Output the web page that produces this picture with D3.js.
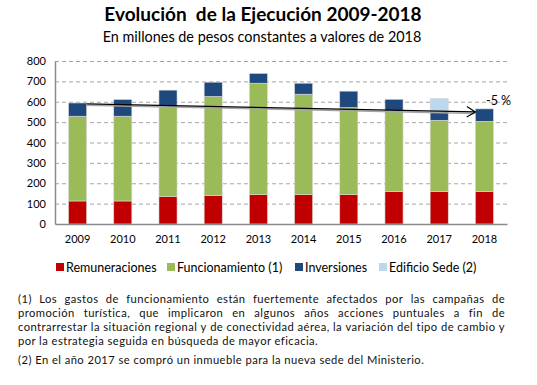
<!DOCTYPE html>
<html><head><meta charset="utf-8">
<script src="https://cdn.jsdelivr.net/npm/d3@7"></script>
<style>body{margin:0;background:#fff}svg{display:block}</style>
</head><body><svg id="c" width="537" height="385"></svg>
<script>
const years = ["2009","2010","2011","2012","2013","2014","2015","2016","2017","2018"];
const remuneraciones = [113,113,135,140,144,144,144,159,159,159];
const funcionamiento = [416,416,440,486,547,493,427,398,350,345];
const inversiones = [65,82,82,70,48,54,81,55,44,61];
const edificioSede = [0,0,0,0,0,0,0,0,63,0];
const seriesNames = ["Remuneraciones","Funcionamiento (1)","Inversiones","Edificio Sede (2)"];
const colors = ["#C00000","#9BBB59","#1F497D","#BDD7EE"];
const yTicks = [0,100,200,300,400,500,600,700,800];
const trend = [590, 550];
const trendLabel = "-5 %";
const title = "Evolución  de la Ejecución 2009-2018";
const subtitle = "En millones de pesos constantes a valores de 2018";
const notes = [
 {t:"(1) Los gastos de funcionamiento están fuertemente afectados por las campañas de", j:true},
 {t:"promoción turística, que implicaron en algunos años acciones puntuales a fin de", j:true},
 {t:"contrarrestar la situación regional y de conectividad aérea, la variación del tipo de cambio y", j:true},
 {t:"por la estrategia seguida en búsqueda de mayor eficacia.", j:false},
 {t:"(2) En el año 2017 se compró un inmueble para la nueva sede del Ministerio.", j:false, gap:true}
];

const font = "Lato, 'Open Sans', sans-serif";
const svg = d3.select("#c").style("font-family", font);
const L=55, R=507, T=61, B=224;
const x = d3.scaleBand().domain(years).range([L,R]).paddingInner(0.6).paddingOuter(0.3);
const y = d3.scaleLinear().domain([0,800]).range([B,T]);

svg.append("text").attr("x",263).attr("y",21).attr("text-anchor","middle").style("white-space","pre")
  .attr("font-size",19).attr("font-weight","bold").text(title);
svg.append("text").attr("x",262).attr("y",42).attr("text-anchor","middle")
  .attr("font-size",14.4).text(subtitle);

// grid
svg.append("g").selectAll("line").data(yTicks.filter(d=>d>0)).join("line")
  .attr("x1",L).attr("x2",R).attr("y1",d=>y(d)+0.5).attr("y2",d=>y(d)+0.5)
  .attr("stroke","#a6a6a6").attr("stroke-dasharray","4,3");

// stacked bars
const rows = years.map((yr,i)=>({year:yr, s0:remuneraciones[i], s1:funcionamiento[i], s2:inversiones[i], s3:edificioSede[i]}));
const stack = d3.stack().keys(["s0","s1","s2","s3"])(rows);
svg.append("g").selectAll("g").data(stack).join("g").attr("fill",(d,i)=>colors[i])
  .selectAll("rect").data(d=>d.filter(p=>p[1]>p[0])).join("rect")
  .attr("x",d=>x(d.data.year)).attr("width",x.bandwidth())
  .attr("y",d=>y(d[1])).attr("height",d=>y(d[0])-y(d[1]))
  .attr("stroke","#d9d9d9").attr("stroke-width",0.6);

// axes
const yAxis = svg.append("g").attr("transform",`translate(${L},0)`)
  .call(d3.axisLeft(y).tickValues(yTicks).tickSize(0).tickPadding(9));
yAxis.select(".domain").attr("stroke","#8c8c8c").attr("stroke-width",1.5);
yAxis.selectAll("text").attr("font-size",11).attr("font-family",font).attr("fill","#000");
const xAxis = svg.append("g").attr("transform",`translate(0,${B})`)
  .call(d3.axisBottom(x).tickSize(0).tickPadding(11));
xAxis.select(".domain").attr("stroke","#8c8c8c").attr("stroke-width",1.5);
xAxis.selectAll("text").attr("font-size",11).attr("font-family",font).attr("fill","#000");

// trend arrow
const x0 = x(years[0])+x.bandwidth(), x1 = x(years[years.length-1]);
svg.append("line").attr("x1",x0).attr("x2",x1).attr("y1",y(trend[0])+1.5).attr("y2",y(trend[1])+1.5)
  .attr("stroke","#a6a6a6").attr("stroke-width",1.5);
svg.append("line").attr("x1",x0).attr("x2",x1).attr("y1",y(trend[0])).attr("y2",y(trend[1]))
  .attr("stroke","#000").attr("stroke-width",1.3);
const ang = Math.atan2(y(trend[1])-y(trend[0]), x1-x0);
const ah = 10, aw = 0.55;
svg.append("path").attr("d",
  `M${x1-ah*Math.cos(ang-aw)},${y(trend[1])-ah*Math.sin(ang-aw)} L${x1},${y(trend[1])} L${x1-ah*Math.cos(ang+aw)},${y(trend[1])-ah*Math.sin(ang+aw)}`)
  .attr("fill","none").attr("stroke","#000").attr("stroke-width",1.2);
svg.append("text").attr("x",486).attr("y",105).attr("font-size",12.5).text(trendLabel);

// legend
const legX = [56,167,295,379];
const lg = svg.append("g").selectAll("g").data(seriesNames).join("g")
  .attr("transform",(d,i)=>`translate(${legX[i]},263)`);
lg.append("rect").attr("width",8).attr("height",8).attr("fill",(d,i)=>colors[i]);
lg.append("text").attr("x",10).attr("y",8.5).attr("font-size",12.5).text(d=>d);

// notes
const nL=18, nR=505, fs=11.2, ls=0.45;
let ny = 303;
notes.forEach((n,k)=>{
  if(n.gap) ny += 4.5;
  const g = svg.append("text").attr("y",ny).attr("font-size",fs).attr("letter-spacing",ls).attr("fill","#111");
  if(!n.j){ g.attr("x",nL).text(n.t); }
  else {
    const words = n.t.split(" ");
    const widths = words.map(w=>{ const t=svg.append("text").attr("font-size",fs).attr("letter-spacing",ls).text(w); const wd=t.node().getComputedTextLength(); t.remove(); return wd;});
    const tot = d3.sum(widths);
    const gapW = (nR-nL-tot)/(words.length-1);
    let cx = nL;
    words.forEach((w,i)=>{ g.append("tspan").attr("x",cx).text(w); cx += widths[i]+gapW; });
  }
  ny += 14;
});
</script></body></html>
